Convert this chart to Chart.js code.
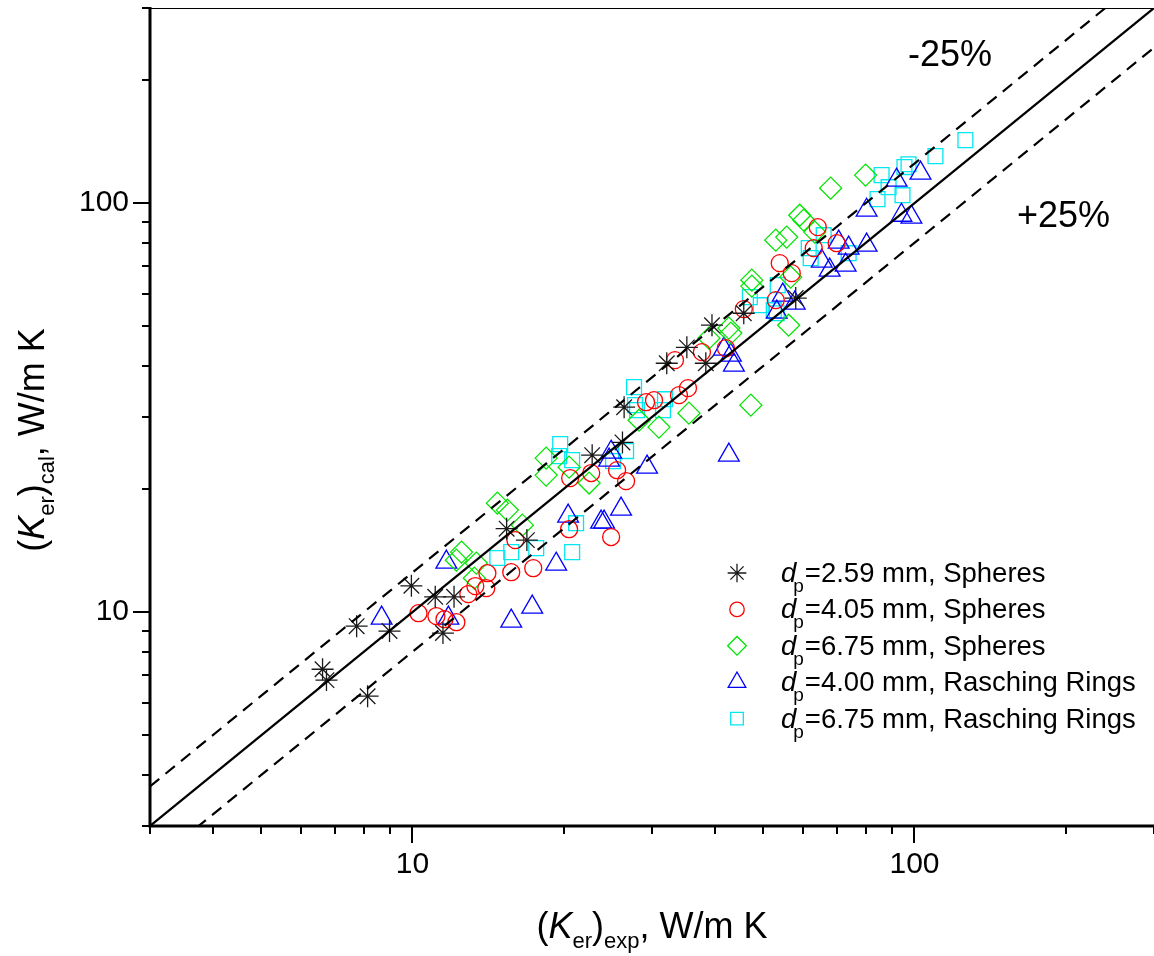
<!DOCTYPE html>
<html>
<head>
<meta charset="utf-8">
<script src="https://cdn.jsdelivr.net/npm/chart.js@4.4.0/dist/chart.umd.min.js"></script>
<style>
  html, body { margin: 0; padding: 0; background: #fff; }
  #wrap { width: 1154px; height: 956px; }
</style>
</head>
<body>
<div id="wrap"><canvas id="grafico" width="1154" height="956"></canvas></div>
<script>
// valores (K_er exp vs K_er cal, W/m K)
const starsX = [6.62, 6.74, 7.74, 8.14, 9.0, 9.95, 11.1, 12.1, 11.5, 15.4, 16.9, 22.8, 26.4, 26.2, 32.1, 35.2, 38.4, 39.5, 45.7, 58.0];
const starsY = [7.25, 6.82, 9.24, 6.23, 8.99, 11.6, 10.9, 10.9, 8.89, 16.0, 15.0, 24.2, 31.7, 26.0, 40.6, 44.4, 40.6, 50.3, 53.8, 58.6];

const circlesX = [10.28, 11.16, 11.58, 12.23, 12.92, 13.34, 14.03, 14.10, 15.73, 16.03, 17.40, 20.51, 20.61, 22.70, 24.87, 25.56, 26.64, 29.19, 30.28, 33.95, 35.38, 33.33, 37.72, 42.10, 45.71, 53.90, 56.95, 64.16, 63.0, 69.98, 52.92];
const circlesY = [9.94, 9.78, 9.61, 9.45, 11.07, 11.58, 11.45, 12.45, 12.52, 15.0, 12.81, 15.95, 21.27, 21.88, 15.26, 22.24, 20.91, 32.61, 32.98, 33.93, 35.29, 41.32, 43.22, 44.21, 55.07, 71.34, 67.43, 87.36, 77.62, 79.83, 57.93];

const diamondsX = [14.76, 15.45, 16.55, 12.52, 12.23, 13.40, 13.28, 18.46, 18.46, 20.51, 22.48, 28.27, 30.97, 35.54, 47.21, 38.95, 42.68, 43.07, 47.42, 47.42, 56.67, 56.15, 52.92, 55.64, 59.07, 60.16, 63.3, 68.08, 79.91];
const diamondsY = [18.47, 17.76, 16.32, 14.02, 13.40, 13.18, 12.11, 23.80, 21.63, 22.62, 20.68, 29.47, 28.34, 30.66, 32.07, 46.77, 49.48, 48.11, 64.82, 62.68, 65.94, 50.3, 81.2, 82.6, 93.4, 90.9, 84.95, 108.8, 117.1];

const trianglesX = [8.68, 11.79, 11.68, 15.73, 17.32, 19.33, 20.42, 23.75, 24.08, 26.03, 24.87, 24.64, 29.33, 42.68, 41.72, 43.07, 43.68, 53.16, 54.65, 57.74, 65.35, 67.77, 70.63, 73.93, 72.92, 80.28, 80.28, 92.1, 94.2, 98.6, 102.8];
const trianglesY = [9.67, 9.67, 13.25, 9.51, 10.29, 13.10, 17.17, 16.6, 16.6, 17.86, 24.61, 23.53, 22.62, 24.2, 43.96, 42.5, 40.17, 54.15, 59.57, 56.95, 72.15, 68.58, 80.28, 77.62, 70.53, 96.1, 78.94, 113.8, 93.4, 92.4, 118.4];

const squaresX = [14.76, 15.73, 17.64, 20.80, 21.18, 19.69, 19.60, 20.80, 25.09, 26.64, 27.63, 27.75, 28.01, 31.84, 31.55, 46.99, 49.41, 52.44, 53.16, 53.40, 61.56, 62.12, 65.94, 73.93, 84.4, 88.8, 86.0, 94.65, 95.5, 97.3, 110.1, 126.3];
const squaresY = [13.56, 14.02, 14.34, 14.02, 16.50, 25.75, 24.07, 23.53, 23.40, 24.76, 35.49, 32.07, 31.18, 33.17, 31.18, 58.91, 56.31, 54.74, 53.8, 63.03, 77.62, 73.38, 83.5, 75.46, 102.3, 109.4, 117.1, 104.6, 122.5, 124.5, 130.3, 142.6];

const seriesLabels = ['=2.59 mm, Spheres', '=4.05 mm, Spheres', '=6.75 mm, Spheres', '=4.00 mm, Rasching Rings', '=6.75 mm, Rasching Rings'];
const seriesColors = ['#1a1a1a', '#ff0000', '#00e600', '#0000ff', '#00e8f0'];
const seriesStyles = ['star', 'circle', 'rectRot', 'triangle', 'rect'];
const seriesRadius = [11, 8.5, 11, 12, 10.5];

// ejes
const axisMin = 3;
const axisMax = 300;
const axisTicks = [3, 4, 5, 6, 7, 8, 9, 10, 20, 30, 40, 50, 60, 70, 80, 90, 100, 200, 300];
const majorTicks = [10, 100];

// lineas de referencia y = x, y = x*1.25, y = x/1.25
const refX = [3, 300];
const desvio = 1.25;

const FONT = "'Liberation Sans', Arial, Helvetica, sans-serif";

const toPoints = (xs, ys) => xs.map((x, i) => ({ x: x, y: ys[i] }));

const serie = (i, xs, ys) => ({
    type: 'scatter',
    data: toPoints(xs, ys),
    pointStyle: seriesStyles[i],
    pointRadius: seriesRadius[i],
    pointBorderWidth: 1.3,
    pointBorderColor: seriesColors[i],
    pointBackgroundColor: 'rgba(0,0,0,0)',
    order: 1
});

const linea = (factor, dash) => ({
    type: 'scatter',
    showLine: true,
    data: refX.map(x => ({ x: x, y: x * factor })),
    borderColor: '#000',
    borderWidth: 2.2,
    borderDash: dash,
    pointRadius: 0,
    order: 0
});

// texto con cursiva y subindices
function drawRich(ctx, parts, x, y, align) {
    const fnt = p => (p.i ? 'italic ' : '') + p.s + 'px ' + FONT;
    let w = 0;
    parts.forEach(p => { ctx.font = fnt(p); w += ctx.measureText(p.t).width + (p.dx || 0); });
    let cx = align === 'center' ? x - w / 2 : x;
    parts.forEach(p => {
        ctx.font = fnt(p);
        cx += (p.dx || 0);
        ctx.fillText(p.t, cx, y + (p.dy || 0));
        cx += ctx.measureText(p.t).width;
    });
}

const decoracion = {
    id: 'decoracion',
    afterDraw(chart) {
        const ctx = chart.ctx, a = chart.chartArea;
        const xs = chart.scales.x, ys = chart.scales.y;
        ctx.save();
        ctx.strokeStyle = '#000';
        ctx.fillStyle = '#000';

        // ejes
        ctx.lineWidth = 3;
        ctx.beginPath();
        ctx.moveTo(a.left, a.top - 1); ctx.lineTo(a.left, a.bottom + 1.5);
        ctx.moveTo(a.left - 1.5, a.bottom); ctx.lineTo(a.right, a.bottom);
        ctx.stroke();
        ctx.lineWidth = 1;
        ctx.beginPath();
        ctx.moveTo(a.left, a.top + 0.5); ctx.lineTo(a.right, a.top + 0.5);
        ctx.stroke();

        // marcas
        ctx.lineWidth = 2;
        ctx.beginPath();
        axisTicks.forEach(v => {
            const len = majorTicks.includes(v) ? 17 : 8;
            const px = Math.round(xs.getPixelForValue(v));
            ctx.moveTo(px, a.bottom); ctx.lineTo(px, a.bottom + len);
            const py = Math.round(ys.getPixelForValue(v));
            ctx.moveTo(a.left, py); ctx.lineTo(a.left - len, py);
        });
        ctx.stroke();

        // titulos
        ctx.textBaseline = 'alphabetic';
        ctx.textAlign = 'left';
        const titulo = sub => [
            { t: '(', s: 36 }, { t: 'K', s: 36, i: true }, { t: 'er', s: 22, dy: 10 },
            { t: ')', s: 36 }, { t: sub, s: 22, dy: 10 }, { t: ', W/m K', s: 36 }
        ];
        drawRich(ctx, titulo('exp'), (a.left + a.right) / 2, 938, 'center');
        ctx.save();
        ctx.translate(44, 440);
        ctx.rotate(-Math.PI / 2);
        drawRich(ctx, titulo('cal'), 0, 0, 'center');
        ctx.restore();

        ctx.font = '36px ' + FONT;
        ctx.fillText('-25%', 908, 66);
        ctx.fillText('+25%', 1017, 227);

        // leyenda
        seriesLabels.forEach((lab, i) => {
            const y = 573 + i * 36.4;
            ctx.save();
            ctx.strokeStyle = seriesColors[i];
            ctx.fillStyle = 'rgba(0,0,0,0)';
            ctx.lineWidth = 1.3;
            Chart.helpers.drawPoint(ctx, { pointStyle: seriesStyles[i], radius: seriesRadius[i] * 0.85, rotation: 0, borderWidth: 1.3 }, 737, y);
            ctx.restore();
            drawRich(ctx, [
                { t: 'd', s: 27.5, i: true },
                { t: 'p', s: 19, dy: 10, dx: -3 },
                { t: lab, s: 27.5, dx: 1 }
            ], 781, y + 9, 'left');
        });
        ctx.restore();
    }
};

const sinPadding = s => { s.paddingTop = 0; s.paddingBottom = 0; s.paddingLeft = 0; s.paddingRight = 0; };

const escala = (extra) => Object.assign({
    type: 'logarithmic',
    min: axisMin,
    max: axisMax,
    afterBuildTicks: s => { s.ticks = axisTicks.map(v => ({ value: v })); },
    border: { display: false },
    grid: { display: true, drawOnChartArea: false, drawTicks: true, tickLength: 17, color: 'rgba(0,0,0,0)' },
    ticks: {
        autoSkip: false,
        maxRotation: 0,
        padding: 4,
        color: '#000',
        font: { family: FONT, size: 30 },
        callback: v => majorTicks.includes(v) ? String(v) : ''
    }
}, extra);

new Chart(document.getElementById('grafico'), {
    type: 'scatter',
    data: {
        datasets: [
            linea(1, []),
            linea(desvio, [12, 8]),
            linea(1 / desvio, [12, 8]),
            serie(0, starsX, starsY),
            serie(1, circlesX, circlesY),
            serie(2, diamondsX, diamondsY),
            serie(3, trianglesX, trianglesY),
            serie(4, squaresX, squaresY)
        ]
    },
    options: {
        responsive: false,
        animation: false,
        devicePixelRatio: 1,
        layout: { autoPadding: false, padding: { top: 8, right: 0, left: 0, bottom: 0 } },
        plugins: { legend: { display: false }, tooltip: { enabled: false } },
        scales: {
            x: escala({ afterFit: s => { s.height = 130; sinPadding(s); } }),
            y: escala({ afterFit: s => { s.width = 150; sinPadding(s); } })
        }
    },
    plugins: [decoracion]
});
</script>
</body>
</html>
